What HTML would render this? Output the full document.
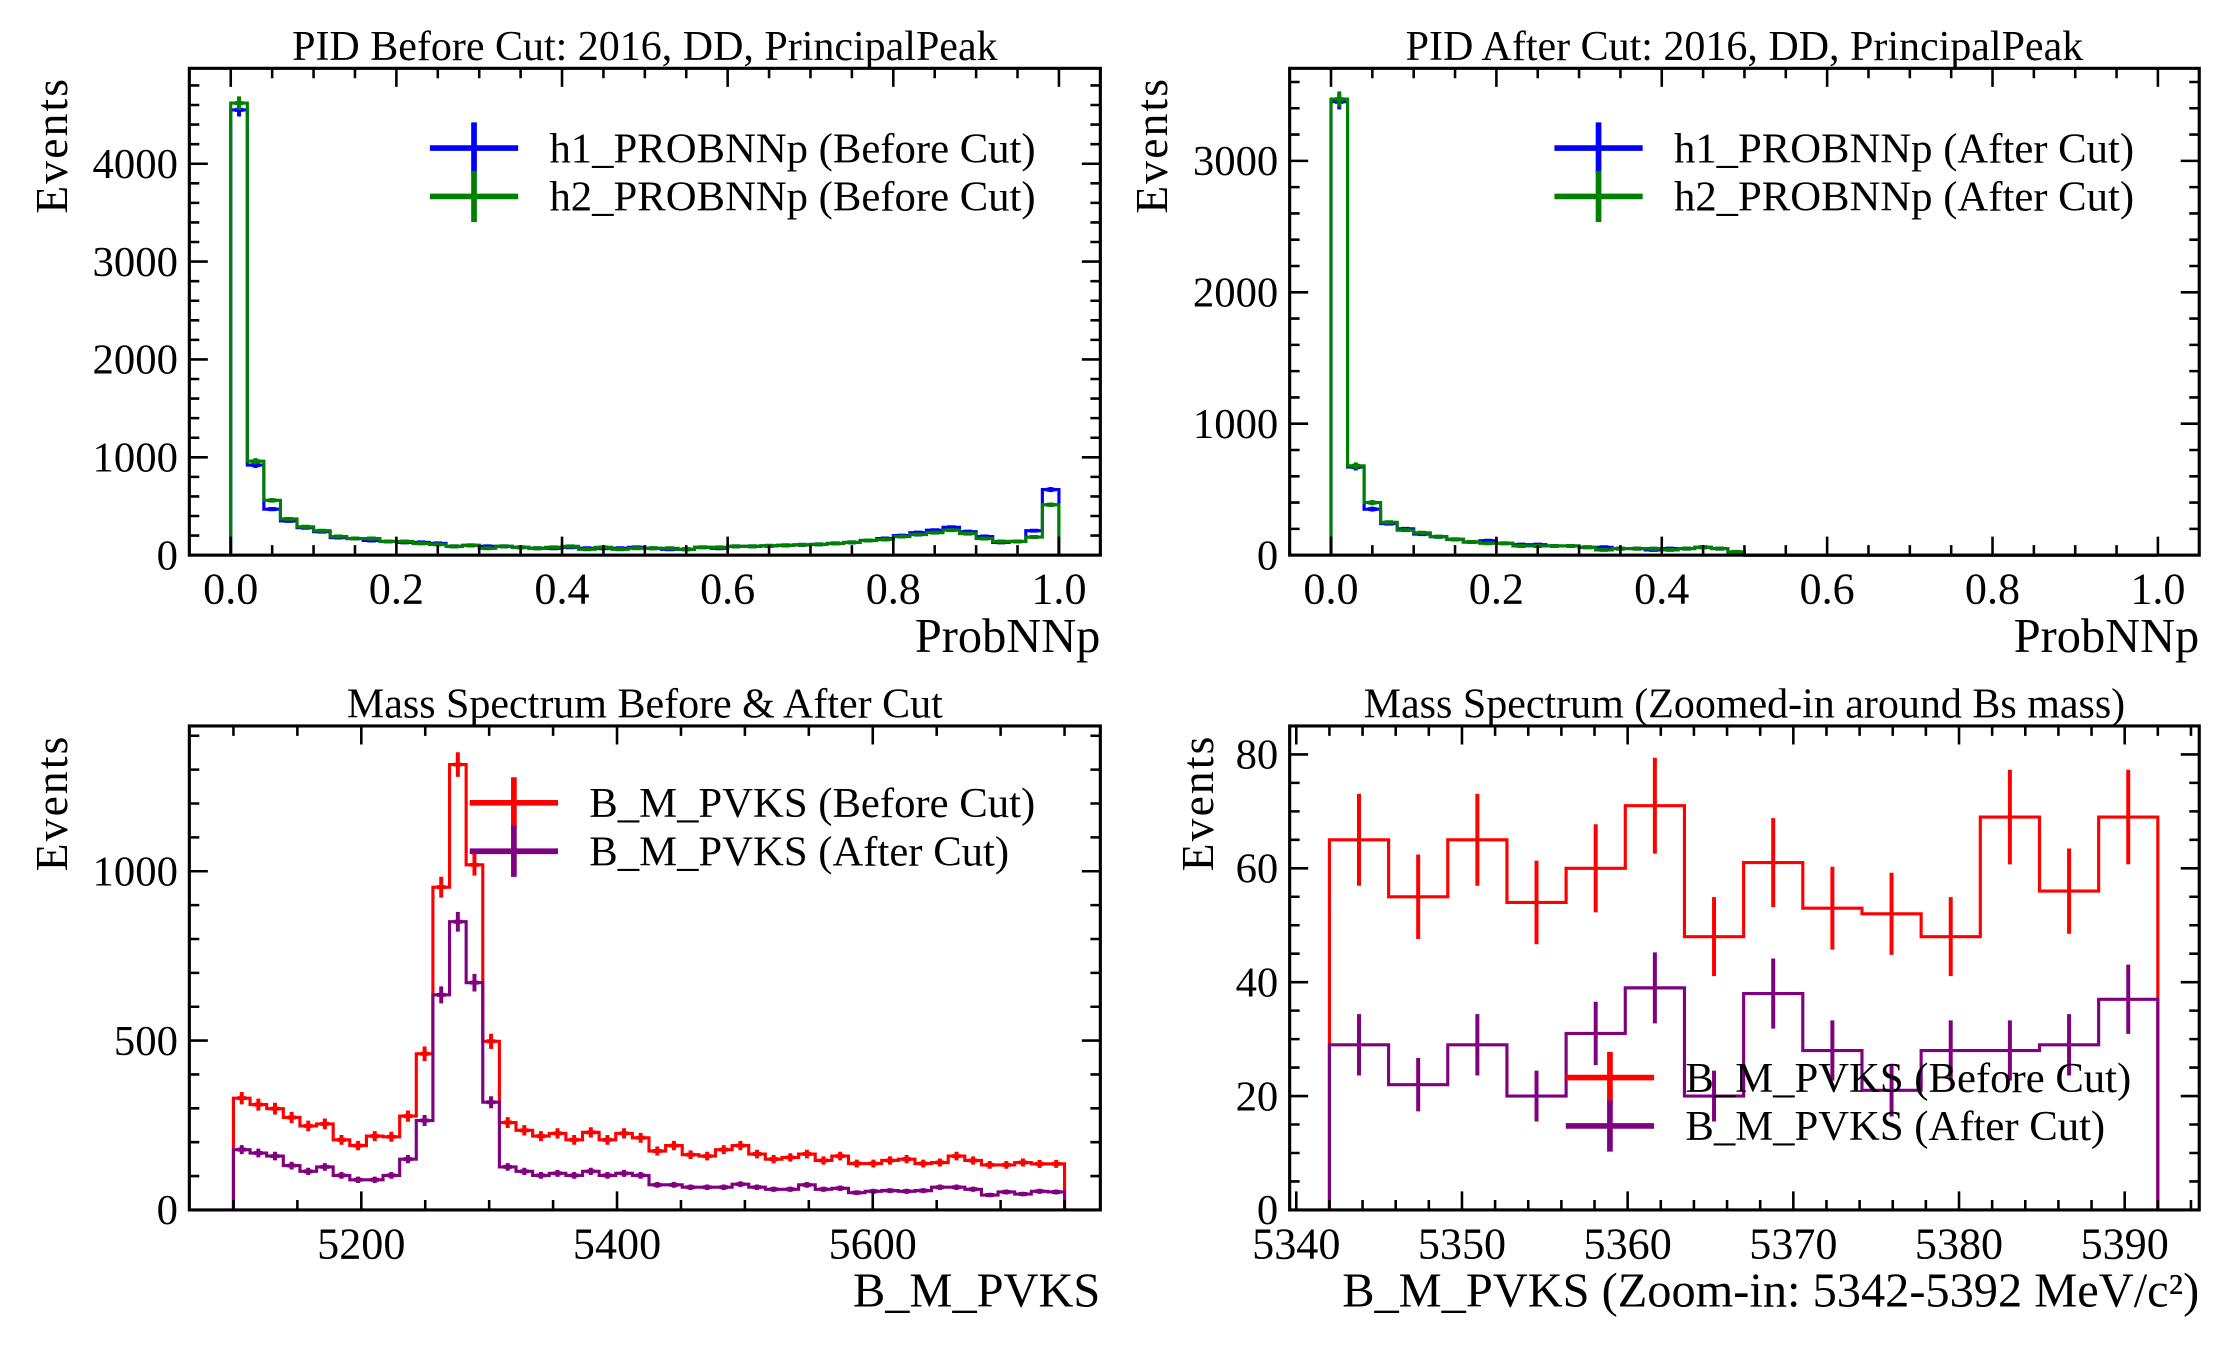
<!DOCTYPE html>
<html><head><meta charset="utf-8">
<style>
html,body{margin:0;padding:0;background:#fff;}
svg{display:block;}
text{font-family:"Liberation Serif",serif;fill:#000;}
</style></head>
<body>
<svg id="fig" xmlns="http://www.w3.org/2000/svg" width="2232" height="1350" viewBox="0 0 1568 948.4">
<rect x="0" y="0" width="1568" height="948.4" fill="#fff"/>
</svg>
<script>
// ---- Panel 1: PID before cut (50 bins, 0..1)
const pidBeforeH1 = [4550,920,470,350,280,240,180,170,150,140,130,130,120,90,100,90,90,80,70,70,80,70,70,70,80,70,60,60,80,70,90,90,95,100,105,110,120,130,150,170,200,230,255,285,240,190,130,140,250,670];
const pidBeforeH2 = [4620,960,560,370,290,250,190,170,170,140,140,120,110,90,100,70,90,80,70,80,90,60,80,60,70,70,70,60,80,80,90,90,95,100,105,110,120,130,150,160,190,210,230,255,220,170,140,140,185,515];
// ---- Panel 2: PID after cut (50 bins, 0..1)
const pidAfterH1 = [3450,670,350,240,200,160,140,120,100,110,90,80,80,70,70,60,60,50,50,40,50,50,60,50,20,0,0,0,0,0,0,0,0,0,0,0,0,0,0,0,0,0,0,0,0,0,0,0,0,0];
const pidAfterH2 = [3470,680,400,250,190,170,140,120,100,90,90,70,70,70,70,60,40,50,50,50,40,50,60,50,25,0,0,0,0,0,0,0,0,0,0,0,0,0,0,0,0,0,0,0,0,0,0,0,0,0];
// ---- Panel 3: mass spectrum 5100..5750 (50 bins)
const massBefore = [330,311,299,273,248,254,207,190,218,216,277,461,953,1315,1019,498,258,235,218,226,207,229,207,226,213,174,190,163,159,178,190,165,150,155,165,146,159,137,137,146,150,137,140,159,146,133,133,140,136,136];
const massAfter = [178,168,159,131,114,127,102,89,89,102,150,264,635,851,671,318,127,114,102,108,102,114,102,108,102,74,74,67,67,67,76,67,61,61,74,61,64,51,55,57,55,57,67,67,61,44,53,47,55,53];
// ---- Panel 4: zoomed mass 5342..5392 (14 bins)
const zoomBefore = [65,55,65,54,60,71,48,61,53,52,48,69,56,69];
const zoomAfter = [29,22,29,20,31,39,20,38,28,21,28,28,29,37];
// tick label arrays
const pidTickLabels = ["0.0","0.2","0.4","0.6","0.8","1.0"];
const pidBeforeYLabels = ["0","1000","2000","3000","4000"];
const pidAfterYLabels = ["0","1000","2000","3000"];
const massXLabels = ["5200","5400","5600"];
const massYLabels = ["0","500","1000"];
const zoomXLabels = ["5340","5350","5360","5370","5380","5390"];
const zoomYLabels = ["0","20","40","60","80"];

const NS = "http://www.w3.org/2000/svg";
const svg = document.getElementById('fig');
function mk(tag, attrs, parent){
  const e = document.createElementNS(NS, tag);
  for (const k in attrs) e.setAttribute(k, attrs[k]);
  (parent||svg).appendChild(e);
  return e;
}
function lin(d0,d1,p0,p1){ return v => p0 + (v-d0)/(d1-d0)*(p1-p0); }

function drawPanel(cfg){
  const g = mk('g', {});
  
  
  const [L,T,R,B] = cfg.box;
  const X = lin(cfg.xd[0], cfg.xd[1], L, R);
  const Y = lin(cfg.yd[0], cfg.yd[1], B, T);
  const t = mk('text', {x:(L+R)/2, y:T-6, 'text-anchor':'middle', 'font-size':29.5}, g);
  t.textContent = cfg.title;
  
  
  cfg.series.forEach(s => {
    const n = s.vals.length, w = (cfg.hx[1]-cfg.hx[0])/n;
    let d = `M${X(cfg.hx[0])},${Y(0)}`;
    s.vals.forEach((v,i) => {
      d += ` L${X(cfg.hx[0]+i*w)},${Y(v)} L${X(cfg.hx[0]+(i+1)*w)},${Y(v)}`;
    });
    d += ` L${X(cfg.hx[1])},${Y(0)}`;
    const p = mk('path', {d, fill:'none', stroke:s.color, 'stroke-width':2.2}, g);
    
    
    s.vals.forEach((v,i) => {
      if (v <= 0) return;
      const cx = X(cfg.hx[0]+(i+0.5)*w), e = Math.sqrt(v);
      const eb = mk('path', {d:`M${cx},${Y(v+e)} L${cx},${Y(v-e)} M${cx-cfg.cap},${Y(v)} L${cx+cfg.cap},${Y(v)}`, stroke:s.color, 'stroke-width':cfg.ebw, fill:'none'}, g);
      
      
    });
  });
  const fr = mk('rect', {x:L, y:T, width:R-L, height:B-T, fill:'none', stroke:'#000', 'stroke-width':2.2}, g);
  
  
  let td = '';
  const eps = 1e-9;
  for (let v = cfg.xminor[0]; v <= cfg.xd[1]+eps; v += cfg.xminor[1]) {
    if (v < cfg.xd[0]) continue;
    const x = X(v);
    const major = cfg.xmajor.some(m => Math.abs(m-v) < 1e-6);
    const len = major ? 13 : 7;
    td += `M${x},${B} L${x},${B-len} M${x},${T} L${x},${T+len} `;
  }
  for (let v = 0; v <= cfg.yd[1]+eps; v += cfg.yminor) {
    const y = Y(v);
    const major = cfg.ymajor.some(m => Math.abs(m-v) < 1e-6);
    const len = major ? 13 : 7;
    td += `M${L},${y} L${L+len},${y} M${R},${y} L${R-len},${y} `;
  }
  const tk = mk('path', {d:td, stroke:'#000', 'stroke-width':1.8, fill:'none'}, g);
  
  
  cfg.xmajor.forEach((v,i) => {
    const tx = mk('text', {x:X(v), y:B+34, 'text-anchor':'middle', 'font-size':31}, g);
    tx.textContent = cfg.xlabels[i];
    
    
  });
  cfg.ymajor.forEach((v,i) => {
    const ty = mk('text', {x:L-8, y:Y(v)+10, 'text-anchor':'end', 'font-size':30}, g);
    ty.textContent = cfg.ylabels[i];
    
    
  });
  const xl = mk('text', {x:R, y:B+68, 'text-anchor':'end', 'font-size':34}, g);
  xl.textContent = cfg.xtitle;
  
  
  const yl = mk('text', {x:0, y:0, 'text-anchor':'end', 'font-size':32, 'letter-spacing':'1.5', transform:`translate(${cfg.ylx},${T+6}) rotate(-90)`}, g);
  yl.textContent = 'Events';
  
  
  cfg.series.forEach((s,i) => {
    const ly = cfg.leg[1] + i*34;
    const lx = cfg.leg[0];
    const lg = mk('g', {}, g);
    
    
    mk('path', {d:`M${lx},${ly} L${lx+62},${ly} M${lx+31},${ly-18} L${lx+31},${ly+18}`, stroke:s.color, 'stroke-width':4, fill:'none'}, lg);
    const lt = mk('text', {x:lx+84, y:ly+10, 'font-size':30}, lg);
    lt.textContent = s.label;
  });
}

drawPanel({name:'pid-before-panel', box:[133,48,773,390], xd:[-0.05,1.05], yd:[0,4975], hx:[0,1],
  title:'PID Before Cut: 2016, DD, PrincipalPeak',
  xmajor:[0,0.2,0.4,0.6,0.8,1.0], xlabels:pidTickLabels, xminor:[-0.05,0.05],
  ymajor:[0,1000,2000,3000,4000], ylabels:pidBeforeYLabels, yminor:200,
  xtitle:'ProbNNp', ylx:47, cap:3, ebw:2.8, leg:[302,104],
  series:[{name:'h1-probnnp-before', vals:pidBeforeH1, color:'#0000ff', label:'h1_PROBNNp (Before Cut)'},
          {name:'h2-probnnp-before', vals:pidBeforeH2, color:'#008000', label:'h2_PROBNNp (Before Cut)'}]});

drawPanel({name:'pid-after-panel', box:[906,48,1545,390], xd:[-0.05,1.05], yd:[0,3704], hx:[0,1],
  title:'PID After Cut: 2016, DD, PrincipalPeak',
  xmajor:[0,0.2,0.4,0.6,0.8,1.0], xlabels:pidTickLabels, xminor:[-0.05,0.05],
  ymajor:[0,1000,2000,3000], ylabels:pidAfterYLabels, yminor:200,
  xtitle:'ProbNNp', ylx:820, cap:3, ebw:2.8, leg:[1092,104],
  series:[{name:'h1-probnnp-after', vals:pidAfterH1, color:'#0000ff', label:'h1_PROBNNp (After Cut)'},
          {name:'h2-probnnp-after', vals:pidAfterH2, color:'#008000', label:'h2_PROBNNp (After Cut)'}]});

drawPanel({name:'mass-spectrum-panel', box:[133,510,773,850], xd:[5065.5,5778], yd:[0,1429], hx:[5100,5750],
  title:'Mass Spectrum Before & After Cut',
  xmajor:[5200,5400,5600], xlabels:massXLabels, xminor:[5100,50],
  ymajor:[0,500,1000], ylabels:massYLabels, yminor:100,
  xtitle:'B_M_PVKS', ylx:47, cap:3, ebw:2.8, leg:[330,564],
  series:[{name:'mass-before', vals:massBefore, color:'#ff0000', label:'B_M_PVKS (Before Cut)'},
          {name:'mass-after', vals:massAfter, color:'#800080', label:'B_M_PVKS (After Cut)'}]});

drawPanel({name:'mass-zoom-panel', box:[906,510,1545,850], xd:[5339.6,5394.5], yd:[0,85], hx:[5342,5392],
  title:'Mass Spectrum (Zoomed-in around Bs mass)',
  xmajor:[5340,5350,5360,5370,5380,5390], xlabels:zoomXLabels, xminor:[5340,2],
  ymajor:[0,20,40,60,80], ylabels:zoomYLabels, yminor:5,
  xtitle:'B_M_PVKS (Zoom-in: 5342-5392 MeV/c²)', ylx:852, cap:0, ebw:2.8, leg:[1100,757],
  series:[{name:'zoom-before', vals:zoomBefore, color:'#ff0000', label:'B_M_PVKS (Before Cut)'},
          {name:'zoom-after', vals:zoomAfter, color:'#800080', label:'B_M_PVKS (After Cut)'}]});
</script>
</body></html>
